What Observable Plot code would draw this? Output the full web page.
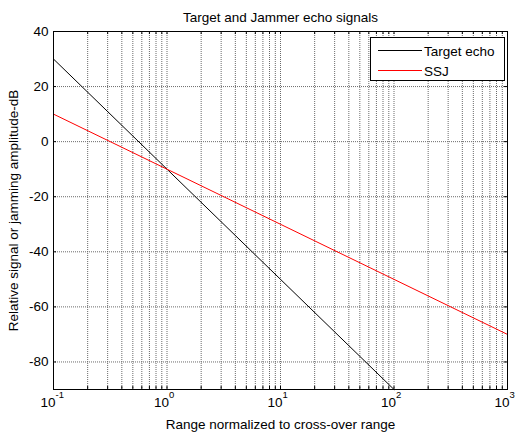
<!DOCTYPE html>
<html><head><meta charset="utf-8">
<script src="https://cdn.jsdelivr.net/npm/d3@7"></script>
<script src="https://cdn.jsdelivr.net/npm/@observablehq/plot@0.6"></script>
<style>
body{margin:0;background:#fff;font-family:"Liberation Sans",Arial,sans-serif}
#wrap{position:relative;width:517px;height:433px}
#legend{position:absolute;left:370px;top:37px;width:133px;height:42px;border:1px solid #000;background:#fff}
#legend svg{display:block}
</style></head><body><div id="wrap"></div>
<script>
// data
const targetRange = [0.1, 1, 10, 100];
const targetEcho = [30, -10, -50, -90];
const ssjRange = [0.1, 1, 10, 100, 1000];
const ssjLevel = [10, -10, -30, -50, -70];
const decades = [0.1, 1, 10, 100, 1000];
const decadeExp = ["-1", "0", "1", "2", "3"];
const minorMult = [2, 3, 4, 5, 6, 7, 8, 9];
const yTicks = [-80, -60, -40, -20, 0, 20, 40];
const seriesNames = ["Target echo", "SSJ"];
const seriesColors = ["#000000", "#ff0000"];
const titleText = "Target and Jammer echo signals";
const xLabel = "Range normalized to cross-over range";
const yLabel = "Relative signal or jamming amplitude-dB";

const xDomain = [0.1, 1000], yDomain = [-90, 40];
const targetData = targetRange.map((r, i) => ({r, v: targetEcho[i]}));
const ssjData = ssjRange.map((r, i) => ({r, v: ssjLevel[i]}));
const xAllTicks = [];
decades.forEach(d => { xAllTicks.push(d); if (d < 1000) minorMult.forEach(m => xAllTicks.push(+(d * m).toPrecision(3))); });

const tickLenY = 1.1; // ~3px in y units
const tickLenXfac = Math.pow(10, 3 * 4 / 454); // ~4px in log x

const font = "Liberation Sans, Arial, sans-serif";
const fs = 13.5;
const gridStyle = {stroke: "#6a6a6a", strokeWidth: 1, strokeDasharray: "1,1"};
const chart = Plot.plot({
  width: 517, height: 433,
  marginLeft: 53, marginRight: 10, marginTop: 31, marginBottom: 44,
  style: {fontFamily: font, fontSize: fs + "px", background: "#fff", color: "#000"},
  x: {type: "log", domain: xDomain, axis: null},
  y: {domain: yDomain, axis: null},
  marks: [
    Plot.ruleX(xAllTicks.filter(d => d > 0.1 && d < 1000), gridStyle),
    Plot.ruleY(yTicks, gridStyle),
    Plot.ruleX(xAllTicks, {y1: yDomain[0], y2: yDomain[0] + tickLenY, stroke: "#000"}),
    Plot.ruleX(xAllTicks, {y1: yDomain[1], y2: yDomain[1] - tickLenY, stroke: "#000"}),
    Plot.ruleY(yTicks, {x1: xDomain[0], x2: xDomain[0] * tickLenXfac, stroke: "#000"}),
    Plot.ruleY(yTicks, {x1: xDomain[1], x2: xDomain[1] / tickLenXfac, stroke: "#000"}),
    Plot.line(targetData, {x: "r", y: "v", stroke: seriesColors[0], strokeWidth: 1}),
    Plot.line(ssjData, {x: "r", y: "v", stroke: seriesColors[1], strokeWidth: 1}),
    Plot.frame({stroke: "#000", strokeWidth: 1}),
    Plot.text(yTicks, {x: xDomain[0], y: d => d, text: d => String(d), textAnchor: "end", dx: -5, fontSize: fs}),
    Plot.text(decades, {x: d => d, y: yDomain[0], text: () => "10", textAnchor: "end", dx: 2, dy: 13, fontSize: fs}),
    Plot.text(decades, {x: d => d, y: yDomain[0], text: (d, i) => decadeExp[i], textAnchor: "start", dx: 2, dy: 5, fontSize: 9.5}),
    Plot.text([titleText], {frameAnchor: "top", textAnchor: "middle", lineAnchor: "middle", dy: -14, fontSize: fs}),
    Plot.text([xLabel], {frameAnchor: "bottom", textAnchor: "middle", lineAnchor: "middle", dy: 35, fontSize: fs}),
    Plot.text([yLabel], {frameAnchor: "left", textAnchor: "middle", lineAnchor: "middle", dx: -40, rotate: -90, fontSize: fs})
  ]
});
const wrap = document.getElementById("wrap");
wrap.appendChild(chart);

// legend overlay
const leg = document.createElement("div");
leg.id = "legend";
const ns = "http://www.w3.org/2000/svg";
const svg = document.createElementNS(ns, "svg");
svg.setAttribute("width", 133); svg.setAttribute("height", 42);
seriesNames.forEach((name, i) => {
  const yy = 12.5 + i * 20;
  const ln = document.createElementNS(ns, "line");
  ln.setAttribute("x1", 7); ln.setAttribute("x2", 51);
  ln.setAttribute("y1", yy); ln.setAttribute("y2", yy);
  ln.setAttribute("stroke", seriesColors[i]);
  svg.appendChild(ln);
  const tx = document.createElementNS(ns, "text");
  tx.setAttribute("x", 53); tx.setAttribute("y", yy + 5);
  tx.setAttribute("font-size", fs); tx.setAttribute("font-family", font);
  tx.textContent = name;
  svg.appendChild(tx);
});
leg.appendChild(svg);
wrap.appendChild(leg);
</script></body></html>
